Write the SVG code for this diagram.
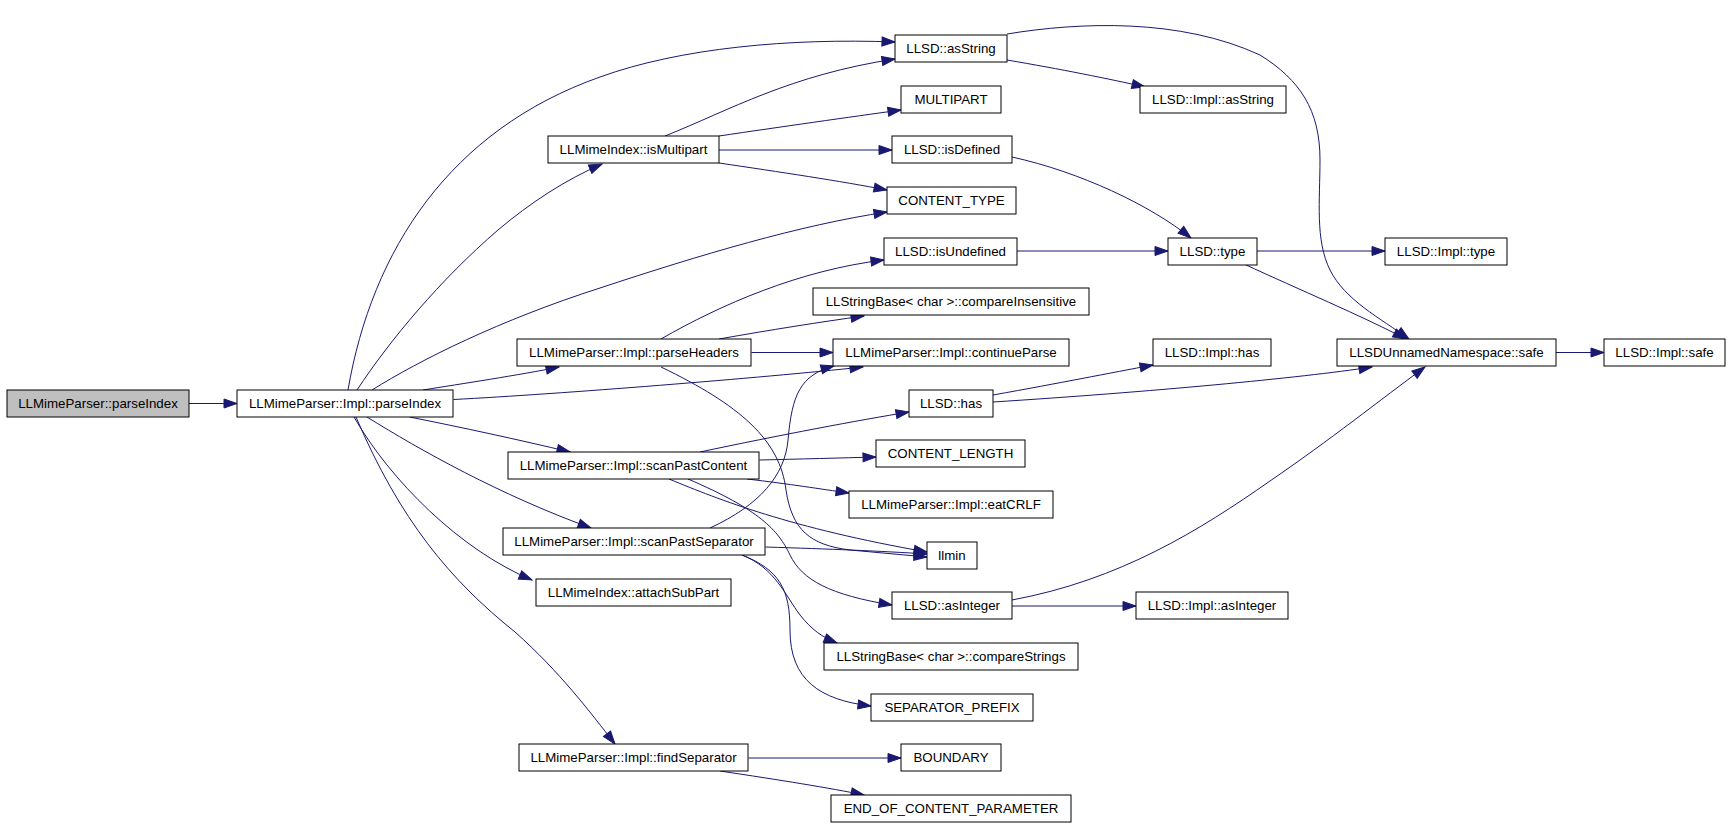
<svg xmlns="http://www.w3.org/2000/svg" width="1731" height="827" viewBox="0 0 1731 827">
<style>
.n rect{fill:#ffffff;stroke:#000000;stroke-width:1}
.n.root rect{fill:#bfbfbf}
.n text{font-family:"Liberation Sans",Arial,Helvetica,sans-serif;font-size:13.3px;fill:#000000;text-anchor:middle}
.e path{fill:none;stroke:#191970;stroke-width:1;marker-end:url(#arr)}
</style>
<defs>
<marker id="arr" markerUnits="userSpaceOnUse" markerWidth="14" markerHeight="10" refX="13" refY="5" orient="auto" viewBox="0 0 14 10" overflow="visible">
<path d="M0,0.5 L13,5 L0,9.5 z" fill="#191970" stroke="#191970" stroke-width="1"/>
</marker>
</defs>
<rect width="1731" height="827" fill="#ffffff"/>
<g id="edges" class="e">
<path d="M189,403.5 L237,403.5"/>
<path d="M348,390 C372,250 450,130 600,77 C680,48 790,38 895,42"/>
<path d="M357,390 C390,340 440,280 498,230 C530,203 565,180 602,164"/>
<path d="M372,390 C420,360 500,320 600,288 C700,255 800,225 887,212"/>
<path d="M423,390 C460,384 520,375 559,367"/>
<path d="M453.5,399.5 C560,394 760,378 863,367"/>
<path d="M409.5,417 C460,427 520,440 570,452"/>
<path d="M367,417 C420,450 500,495 591,528"/>
<path d="M354,417 C390,480 460,550 532,580"/>
<path d="M356,417 C400,520 450,580 515,632 C560,672 590,712 615,744"/>
<path d="M665,136 C730,110 790,75 895,59"/>
<path d="M719,136 C780,127 850,117 901,110"/>
<path d="M719,150 L892,150"/>
<path d="M719,163 C780,172 840,181 887,190"/>
<path d="M1012,157 C1080,172 1150,205 1191,238"/>
<path d="M1017,251 L1168,251"/>
<path d="M1007,60 C1060,69 1110,79 1145,87"/>
<path d="M1007,34 C1080,22 1180,18 1260,55 C1300,80 1320,110 1320,160 C1320,200 1315,240 1330,270 C1345,300 1380,318 1409,339"/>
<path d="M1257,251 L1385,251"/>
<path d="M1244,264 C1300,290 1360,315 1406,339"/>
<path d="M661,339 C720,305 800,270 884,260"/>
<path d="M719,339 C770,330 820,322 864,316"/>
<path d="M751.5,352.5 L833,352.5"/>
<path d="M661,367 C740,405 780,440 786,490 C792,530 810,545 850,550 L927,557"/>
<path d="M700,452 C780,435 860,420 909,412"/>
<path d="M759.5,460 C800,459 840,458 876,457"/>
<path d="M747,479 C790,484 820,489 849,493"/>
<path d="M669,479 C720,500 790,528 927,552"/>
<path d="M688,479 C760,510 778,530 790,555 C802,580 830,595 892,605"/>
<path d="M710,528 C760,505 785,475 788,440 C792,395 800,375 834,366"/>
<path d="M765.5,547 C830,549 880,551 927,554"/>
<path d="M742,555 C775,568 785,595 800,615 C812,630 822,637 837,643"/>
<path d="M742,555 C780,570 790,590 790,630 C790,680 820,700 871,706"/>
<path d="M748.5,758 L901,758"/>
<path d="M720,771 C780,780 830,788 864,795"/>
<path d="M993,395 C1060,383 1110,373 1153,365"/>
<path d="M993,402 C1150,392 1300,378 1372,367"/>
<path d="M1556,352.5 L1604,352.5"/>
<path d="M1012,606 L1136,606"/>
<path d="M1012,600 C1120,580 1200,530 1270,481 C1330,440 1380,400 1425,367"/>
</g>
<g id="n_parseIndex" class="n root"><rect x="7" y="390" width="182" height="27"/><text x="98" y="408">LLMimeParser::parseIndex</text></g>
<g id="n_implParseIndex" class="n"><rect x="237" y="390" width="216" height="27"/><text x="345" y="408">LLMimeParser::Impl::parseIndex</text></g>
<g id="n_isMultipart" class="n"><rect x="548" y="136" width="171" height="27"/><text x="633.5" y="154">LLMimeIndex::isMultipart</text></g>
<g id="n_parseHeaders" class="n"><rect x="517" y="339" width="234" height="27"/><text x="634" y="357">LLMimeParser::Impl::parseHeaders</text></g>
<g id="n_scanPastContent" class="n"><rect x="508" y="452" width="251" height="27"/><text x="633.5" y="470">LLMimeParser::Impl::scanPastContent</text></g>
<g id="n_scanPastSeparator" class="n"><rect x="503" y="528" width="262" height="27"/><text x="634" y="546">LLMimeParser::Impl::scanPastSeparator</text></g>
<g id="n_attachSubPart" class="n"><rect x="536" y="579" width="195" height="27"/><text x="633.5" y="597">LLMimeIndex::attachSubPart</text></g>
<g id="n_findSeparator" class="n"><rect x="519" y="744" width="229" height="27"/><text x="633.5" y="762">LLMimeParser::Impl::findSeparator</text></g>
<g id="n_asString" class="n"><rect x="895" y="35" width="112" height="27"/><text x="951" y="53">LLSD::asString</text></g>
<g id="n_MULTIPART" class="n"><rect x="901" y="86" width="100" height="27"/><text x="951" y="104">MULTIPART</text></g>
<g id="n_isDefined" class="n"><rect x="892" y="136" width="120" height="27"/><text x="952" y="154">LLSD::isDefined</text></g>
<g id="n_CONTENT_TYPE" class="n"><rect x="887" y="187" width="129" height="27"/><text x="951.5" y="205">CONTENT_TYPE</text></g>
<g id="n_isUndefined" class="n"><rect x="884" y="238" width="133" height="27"/><text x="950.5" y="256">LLSD::isUndefined</text></g>
<g id="n_compareInsensitive" class="n"><rect x="813" y="288" width="276" height="27"/><text x="951" y="306">LLStringBase&lt; char &gt;::compareInsensitive</text></g>
<g id="n_continueParse" class="n"><rect x="833" y="339" width="236" height="27"/><text x="951" y="357">LLMimeParser::Impl::continueParse</text></g>
<g id="n_has" class="n"><rect x="909" y="390" width="84" height="27"/><text x="951" y="408">LLSD::has</text></g>
<g id="n_CONTENT_LENGTH" class="n"><rect x="876" y="440" width="149" height="27"/><text x="950.5" y="458">CONTENT_LENGTH</text></g>
<g id="n_eatCRLF" class="n"><rect x="849" y="491" width="204" height="27"/><text x="951" y="509">LLMimeParser::Impl::eatCRLF</text></g>
<g id="n_llmin" class="n"><rect x="927" y="542" width="50" height="27"/><text x="952" y="560">llmin</text></g>
<g id="n_asInteger" class="n"><rect x="892" y="592" width="120" height="27"/><text x="952" y="610">LLSD::asInteger</text></g>
<g id="n_compareStrings" class="n"><rect x="824" y="643" width="254" height="27"/><text x="951" y="661">LLStringBase&lt; char &gt;::compareStrings</text></g>
<g id="n_SEPARATOR_PREFIX" class="n"><rect x="871" y="694" width="162" height="27"/><text x="952" y="712">SEPARATOR_PREFIX</text></g>
<g id="n_BOUNDARY" class="n"><rect x="901" y="744" width="100" height="27"/><text x="951" y="762">BOUNDARY</text></g>
<g id="n_END_OF_CONTENT_PARAMETER" class="n"><rect x="831" y="795" width="240" height="27"/><text x="951" y="813">END_OF_CONTENT_PARAMETER</text></g>
<g id="n_implAsString" class="n"><rect x="1140" y="86" width="146" height="27"/><text x="1213" y="104">LLSD::Impl::asString</text></g>
<g id="n_type" class="n"><rect x="1168" y="238" width="89" height="27"/><text x="1212.5" y="256">LLSD::type</text></g>
<g id="n_implType" class="n"><rect x="1385" y="238" width="122" height="27"/><text x="1446" y="256">LLSD::Impl::type</text></g>
<g id="n_implHas" class="n"><rect x="1153" y="339" width="118" height="27"/><text x="1212" y="357">LLSD::Impl::has</text></g>
<g id="n_safe" class="n"><rect x="1337" y="339" width="219" height="27"/><text x="1446.5" y="357">LLSDUnnamedNamespace::safe</text></g>
<g id="n_implSafe" class="n"><rect x="1604" y="339" width="121" height="27"/><text x="1664.5" y="357">LLSD::Impl::safe</text></g>
<g id="n_implAsInteger" class="n"><rect x="1136" y="592" width="152" height="27"/><text x="1212" y="610">LLSD::Impl::asInteger</text></g>
</svg>
